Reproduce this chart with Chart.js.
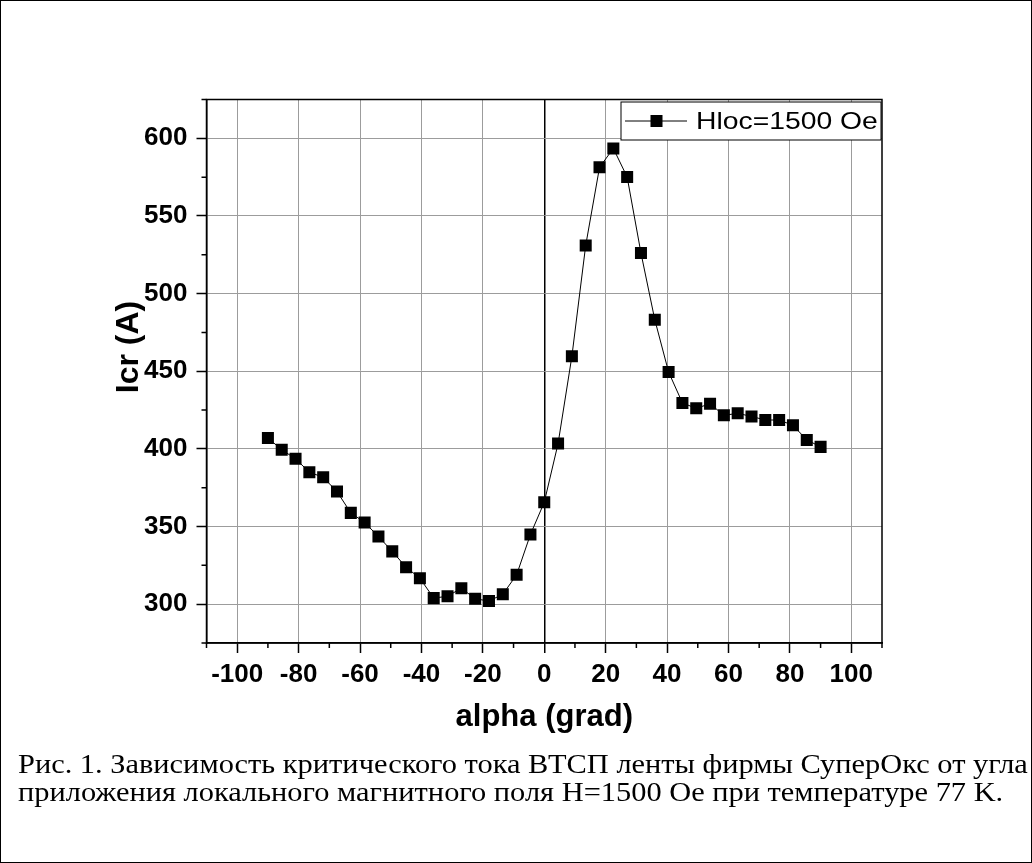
<!DOCTYPE html>
<html>
<head>
<meta charset="utf-8">
<script src="https://cdn.jsdelivr.net/npm/chart.js@4.4.0/dist/chart.umd.min.js"></script>
<style>
html, body { margin: 0; padding: 0; background: #fff; }
#myChart { position: absolute; left: 0; top: 0; }
#frame { position: absolute; left: 0; top: 0; width: 1032px; height: 863px; box-sizing: border-box; border: 1px solid #000; pointer-events: none; }
#caption { position: absolute; left: 18px; top: 750px; font-family: "Liberation Serif", "Times New Roman", serif; font-size: 27px; line-height: 28px; color: #000; white-space: nowrap; transform: scaleX(1.126); transform-origin: 0 0; }
</style>
</head>
<body>
<canvas id="myChart" width="1032" height="863"></canvas>
<div id="caption">
Рис. 1. Зависимость критического тока ВТСП ленты фирмы СуперОкс от угла<br>
приложения локального магнитного поля H=1500 Oe при температуре 77 K.
</div>
<div id="frame"></div>
<script>
// angle (grad) and critical current (A)
var alpha = [-90, -85.5, -81, -76.5, -72, -67.5, -63, -58.5, -54, -49.5, -45,
    -40.5, -36, -31.5, -27, -22.5, -18, -13.5, -9, -4.5, 0,
    4.5, 9, 13.5, 18, 22.5, 27, 31.5, 36, 40.5, 45,
    49.5, 54, 58.5, 63, 67.5, 72, 76.5, 81, 85.5, 90];
var icr = [407, 399.5, 393.6, 385, 381.7, 372.5, 358.8, 352.6, 343.6, 334, 323.8,
    316.7, 303.9, 305.1, 310.3, 303.5, 302, 306.4, 318.9, 344.9, 365.6,
    403.4, 459.6, 531, 581.3, 593.5, 575.1, 526.1, 483.2, 449.5, 429.6,
    426.1, 429.1, 421.6, 422.9, 420.9, 418.6, 418.6, 415.2, 405.8, 401.3];

var seriesLabel = 'Hloc=1500 Oe';
var xTitle = 'alpha (grad)';
var yTitle = 'Icr (A)';

var xMin = -110, xMax = 110, xStep = 10, xLabelStep = 20;
var yMin = 275, yMax = 625, yStep = 25, yLabelStep = 50;

var points = [];
for (var i = 0; i < alpha.length; i++) {
    points.push({x: alpha[i], y: icr[i]});
}

var tickFont = {family: 'Liberation Sans, Arial, sans-serif', size: 26, weight: 'bold'};
var titleFont = {family: 'Liberation Sans, Arial, sans-serif', size: 31, weight: 'bold'};

function isMajor(v, step) {
    return Math.abs(v % step) < 1e-6;
}

// frame around plot, minor ticks, y title, legend box inside the plot
var decorations = {
    id: 'decorations',
    afterDraw: function (chart) {
        var ctx = chart.ctx;
        var a = chart.chartArea;
        var xs = chart.scales.x;
        var ys = chart.scales.y;
        ctx.save();
        ctx.strokeStyle = '#000';
        ctx.lineWidth = 1.5;
        ctx.beginPath();
        xs.ticks.forEach(function (t) {
            if (!isMajor(t.value, xLabelStep)) {
                var px = xs.getPixelForValue(t.value);
                ctx.moveTo(px, a.bottom);
                ctx.lineTo(px, a.bottom + 5);
            }
        });
        ys.ticks.forEach(function (t) {
            if (!isMajor(t.value, yLabelStep)) {
                var py = ys.getPixelForValue(t.value);
                ctx.moveTo(a.left, py);
                ctx.lineTo(a.left - 5, py);
            }
        });
        ctx.stroke();
        ctx.strokeRect(a.left, a.top, a.right - a.left, a.bottom - a.top);

        // y axis title, sits a bit above the middle like in the original
        ctx.save();
        ctx.translate(129, 347);
        ctx.rotate(-Math.PI / 2);
        ctx.fillStyle = '#000';
        ctx.font = 'bold 32px "Liberation Sans", Arial, sans-serif';
        ctx.textAlign = 'center';
        ctx.textBaseline = 'middle';
        ctx.fillText(yTitle, 0, 0);
        ctx.restore();

        // legend
        var lw = 260, lh = 38;
        var lx = a.right - lw - 1, ly = a.top + 2.5;
        ctx.fillStyle = '#fff';
        ctx.fillRect(lx, ly, lw, lh);
        ctx.lineWidth = 1;
        ctx.strokeRect(lx, ly, lw, lh);
        var cy = ly + lh / 2;
        ctx.beginPath();
        ctx.moveTo(lx + 4, cy);
        ctx.lineTo(lx + 66, cy);
        ctx.stroke();
        ctx.fillStyle = '#000';
        ctx.fillRect(lx + 35.5 - 6, cy - 6, 12, 12);
        ctx.font = '24px "Liberation Sans", Arial, sans-serif';
        ctx.textBaseline = 'middle';
        ctx.textAlign = 'left';
        ctx.translate(lx + 75, cy + 1);
        ctx.scale(1.18, 1);
        ctx.fillText(seriesLabel, 0, 0);
        ctx.restore();
    }
};

const config = {
    type: 'line',
    data: {
        datasets: [{
            label: seriesLabel,
            data: points,
            borderColor: '#000',
            borderWidth: 1,
            backgroundColor: '#000',
            pointStyle: 'rect',
            pointRadius: 8.5,
            pointBorderWidth: 0,
            pointBackgroundColor: '#000',
            tension: 0
        }]
    },
    options: {
        responsive: false,
        animation: false,
        layout: {
            padding: {left: 0, top: 99.5, right: 150, bottom: 0}
        },
        plugins: {
            legend: {display: false},
            tooltip: {enabled: false}
        },
        scales: {
            x: {
                type: 'linear',
                min: xMin,
                max: xMax,
                afterFit: function (scale) { scale.height = 220; },
                ticks: {
                    stepSize: xStep,
                    autoSkip: false,
                    maxRotation: 0,
                    padding: 6,
                    color: '#000',
                    font: tickFont,
                    callback: function (v) { return isMajor(v, xLabelStep) ? v : ''; }
                },
                grid: {
                    color: function (c) {
                        if (c.tick.value === 0) return '#000';
                        return isMajor(c.tick.value, xLabelStep) ? '#9c9c9c' : 'rgba(0,0,0,0)';
                    },
                    lineWidth: function (c) { return c.tick.value === 0 ? 1.5 : 1; },
                    tickColor: function (c) { return isMajor(c.tick.value, xLabelStep) ? '#000' : 'rgba(0,0,0,0)'; },
                    tickLength: 10,
                    tickWidth: 1.5
                },
                border: {display: true, color: '#000', width: 1.5},
                title: {
                    display: true,
                    text: xTitle,
                    color: '#000',
                    font: titleFont,
                    padding: {top: 0, bottom: 127}
                }
            },
            y: {
                min: yMin,
                max: yMax,
                afterFit: function (scale) { scale.width = 206.5; },
                ticks: {
                    stepSize: yStep,
                    autoSkip: false,
                    padding: 9,
                    color: '#000',
                    font: tickFont,
                    callback: function (v) { return isMajor(v, yLabelStep) ? v : ''; }
                },
                grid: {
                    color: function (c) { return isMajor(c.tick.value, yLabelStep) ? '#9c9c9c' : 'rgba(0,0,0,0)'; },
                    lineWidth: 1,
                    tickColor: function (c) { return isMajor(c.tick.value, yLabelStep) ? '#000' : 'rgba(0,0,0,0)'; },
                    tickLength: 10,
                    tickWidth: 1.5
                },
                border: {display: true, color: '#000', width: 1.5},
                title: {display: false}
            }
        }
    },
    plugins: [decorations]
};

const myChart = new Chart(document.getElementById('myChart'), config);
</script>
</body>
</html>
